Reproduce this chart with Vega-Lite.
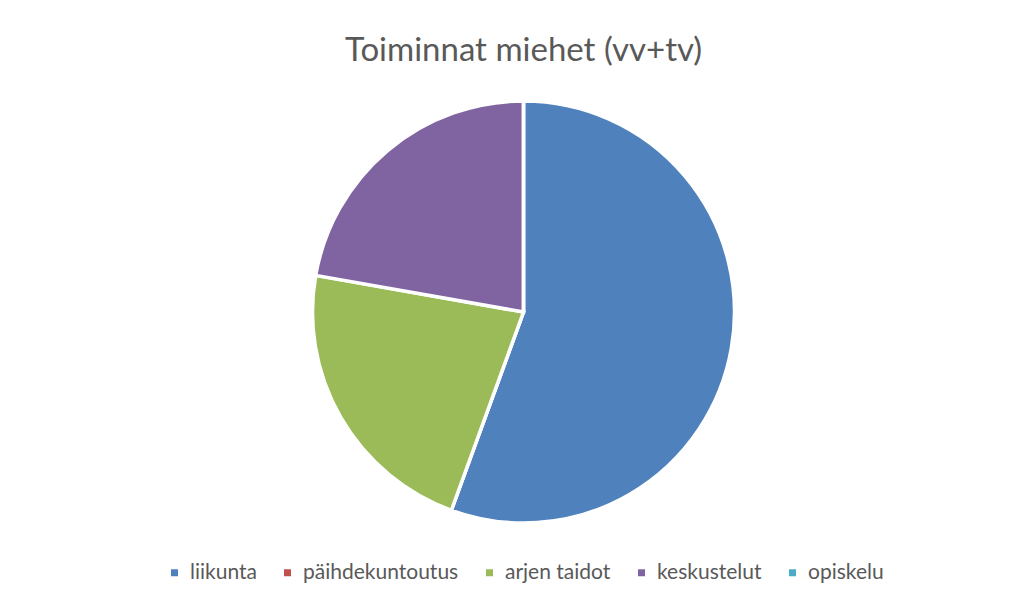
{
  "$schema": "https://vega.github.io/schema/vega-lite/v6.json",
  "width": 1011,
  "height": 444,
  "autosize": {"type": "none"},
  "padding": {"left": 18, "top": 90, "right": 0, "bottom": 69},
  "background": "white",
  "title": {
    "text": "Toiminnat miehet (vv+tv)",
    "font": "Lato",
    "fontSize": 33,
    "fontWeight": "normal",
    "color": "#595959",
    "anchor": "middle",
    "offset": 22
  },
  "data": {
    "values": [
      {"toiminta": "liikunta", "maara": 5, "jarjestys": 1},
      {"toiminta": "päihdekuntoutus", "maara": 0, "jarjestys": 2},
      {"toiminta": "arjen taidot", "maara": 2, "jarjestys": 3},
      {"toiminta": "keskustelut", "maara": 2, "jarjestys": 4},
      {"toiminta": "opiskelu", "maara": 0, "jarjestys": 5}
    ]
  },
  "mark": {"type": "arc", "outerRadius": 211, "stroke": "white", "strokeWidth": 3.5},
  "encoding": {
    "theta": {"field": "maara", "type": "quantitative", "stack": true},
    "order": {"field": "jarjestys", "type": "quantitative", "sort": "ascending"},
    "color": {
      "field": "toiminta",
      "type": "nominal",
      "scale": {
        "domain": ["liikunta", "päihdekuntoutus", "arjen taidot", "keskustelut", "opiskelu"],
        "range": ["#4F81BD", "#C0504D", "#9BBB59", "#8064A2", "#4BACC6"]
      },
      "legend": {
        "title": null,
        "orient": "bottom",
        "direction": "horizontal",
        "offset": 28,
        "symbolType": "square",
        "symbolSize": 49,
        "symbolStrokeWidth": 0,
        "labelFont": "Lato",
        "labelFontSize": 21,
        "labelColor": "#595959",
        "labelOffset": 5,
        "columnPadding": 20,
        "labelLimit": 300
      }
    }
  },
  "config": {
    "view": {"stroke": null},
    "legend": {"layout": {"bottom": {"anchor": "middle"}}}
  }
}
